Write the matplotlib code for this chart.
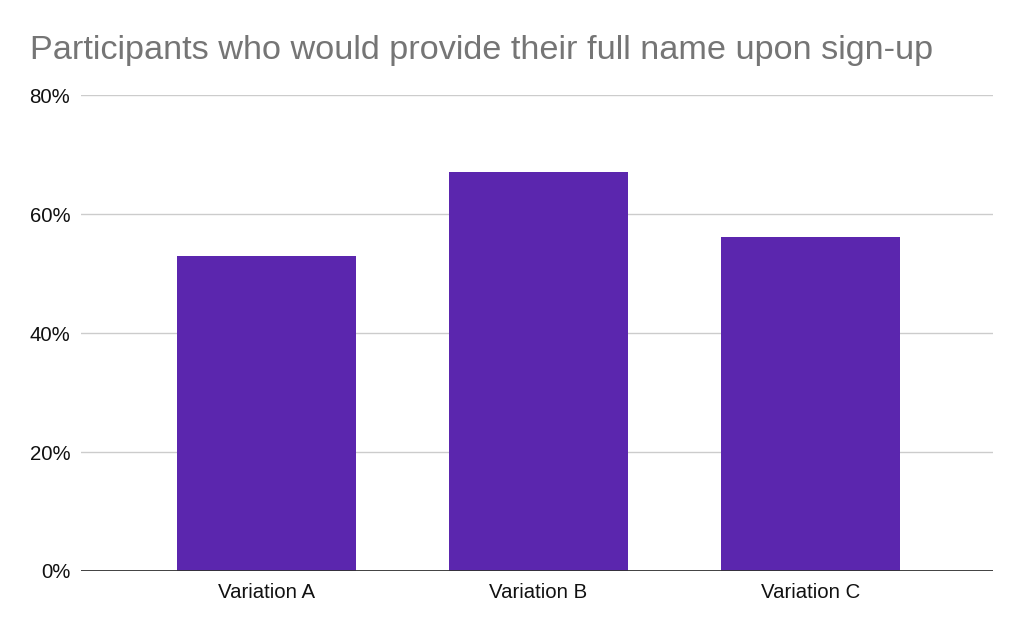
import matplotlib.pyplot as plt
from matplotlib.ticker import FuncFormatter

categories = ["Variation A", "Variation B", "Variation C"]
values = [53.0, 67.1, 56.1]
yticks = [0, 20, 40, 60, 80]

plt.rcParams['font.family'] = ['Liberation Sans', 'DejaVu Sans']

fig = plt.figure(figsize=(10.24, 6.3), dpi=100)
ax = fig.add_axes([0.0794, 0.0937, 0.8903, 0.7553])

ax.bar(range(len(categories)), values, width=0.66, color="#5B26AE", zorder=3)

ax.set_xlim(-0.68, len(categories) - 1 + 0.67)
ax.set_ylim(0, 80)
ax.set_yticks(yticks)
ax.yaxis.set_major_formatter(FuncFormatter(lambda v, p: f"{v:.0f}%"))
ax.set_xticks(range(len(categories)))
ax.set_xticklabels(categories)

ax.grid(axis="y", color="#cccccc", linewidth=1, zorder=0)
ax.axhline(0, color="#333333", linewidth=1.3, zorder=4)
for s in ax.spines.values():
    s.set_visible(False)
ax.tick_params(axis="both", length=0, labelsize=14.7, colors="#111111")
ax.tick_params(axis="y", pad=8)
ax.tick_params(axis="x", pad=9)

fig.text(0.029, 0.907, "Participants who would provide their full name upon sign-up",
         fontsize=24.7, color="#757575", ha="left", va="baseline")

fig.savefig("out.png", dpi=100)
